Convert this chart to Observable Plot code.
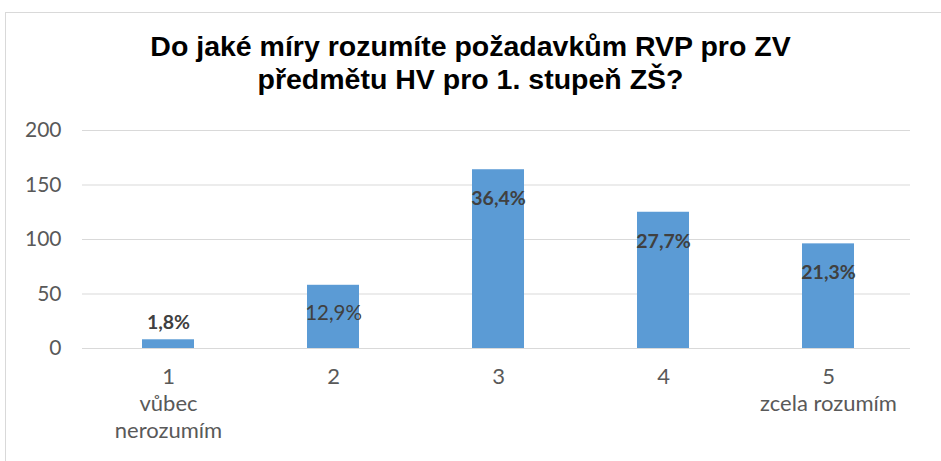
<!DOCTYPE html>
<html>
<head>
<meta charset="utf-8">
<script src="https://cdn.jsdelivr.net/npm/d3@7"></script>
<script src="https://cdn.jsdelivr.net/npm/@observablehq/plot@0.6"></script>
<style>
  html, body { margin: 0; padding: 0; background: #fff; }
  #wrap { position: relative; width: 941px; height: 461px; overflow: hidden; background: #fff; }
  #frame { position: absolute; left: 5px; top: 12px; width: 960px; height: 470px; border: 1px solid #d9d9d9; box-sizing: border-box; }
  #title { position: absolute; left: 0; width: 941px; top: 30px; text-align: center; font-family: "Liberation Sans", Arial, sans-serif; font-weight: bold; font-size: 28.5px; line-height: 33px; color: #000; }
  #chart { position: absolute; left: 0; top: 110px; }
</style>
</head>
<body>
<div id="wrap">
  <div id="frame"></div>
  <div id="title">Do jaké míry rozumíte požadavkům RVP pro ZV<br>předmětu HV pro 1. stupeň ZŠ?</div>
  <div id="chart"></div>
</div>
<script>
const categories = ["1", "2", "3", "4", "5"];
const tickLabels = ["1\nvůbec\nnerozumím", "2", "3", "4", "5\nzcela rozumím"];
const counts = [8, 58, 164, 125, 96];
const percentLabels = ["1,8%", "12,9%", "36,4%", "27,7%", "21,3%"];
const yTicks = [0, 50, 100, 150, 200];

const data = categories.map((c, i) => ({cat: c, value: counts[i], label: percentLabels[i]}));
const tickMap = new Map(categories.map((c, i) => [c, tickLabels[i]]));

const font = "Lato, 'Open Sans', sans-serif";

const chart = Plot.plot({
  width: 941,
  height: 351,
  marginTop: 20,
  marginBottom: 113,
  marginLeft: 82,
  marginRight: 31,
  style: { fontFamily: font, background: "transparent" },
  x: { domain: categories, paddingInner: 0.686, paddingOuter: 0.343, align: 0.52 },
  y: { domain: [0, 200], ticks: yTicks },
  marks: [
    Plot.gridY(yTicks, { stroke: "#d9d9d9", strokeOpacity: 1, strokeWidth: 1 }),
    Plot.barY(data, { x: "cat", y: "value", fill: "#5b9bd5" }),
    Plot.axisY(yTicks, { tickSize: 0, tickPadding: 21, fontSize: 21, color: "#595959", label: null }),
    Plot.axisX({ tickSize: 0, tickPadding: 16, fontSize: 22, lineHeight: 1.24, color: "#595959", label: null, tickFormat: d => tickMap.get(d) }),
    Plot.text(data.filter(d => d.cat === "1"), { x: "cat", y: "value", text: "label", dy: -17, fontSize: 19.5, fontWeight: "bold", fill: "#404040" }),
    Plot.text(data.filter(d => d.cat === "2"), { x: "cat", y: "value", text: "label", dy: 28, fontSize: 20.5, fill: "#404040" }),
    Plot.text(data.filter(d => d.cat !== "1" && d.cat !== "2"), { x: "cat", y: "value", text: "label", dy: 29, fontSize: 19.5, fontWeight: "bold", fill: "#404040" })
  ]
});
document.getElementById("chart").appendChild(chart);
</script>
</body>
</html>
